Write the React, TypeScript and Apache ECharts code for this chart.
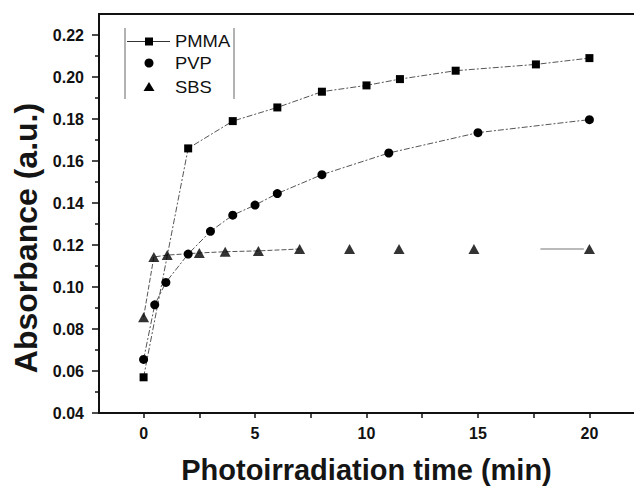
import React, { useEffect, useRef } from "react";
import * as echarts from "echarts";

// PMMA (squares)
const pmmaX = [0, 2, 4, 6, 8, 10, 11.5, 14, 17.6, 20];
const pmmaY = [0.057, 0.166, 0.179, 0.1855, 0.193, 0.196, 0.199, 0.203, 0.206, 0.209];
// PVP (circles)
const pvpX = [0, 0.5, 1, 2, 3, 4, 5, 6, 8, 11, 15, 20];
const pvpY = [0.0655, 0.0915, 0.1022, 0.1157, 0.1265, 0.1342, 0.139, 0.1445, 0.1535, 0.1638, 0.1735, 0.1797];
// SBS (triangles)
const sbsX = [0, 0.46, 1.06, 2.5, 3.66, 5.15, 7, 9.24, 11.46, 14.82, 20];
const sbsY = [0.0856, 0.1143, 0.1152, 0.1162, 0.1168, 0.1172, 0.1181, 0.1181, 0.1181, 0.1181, 0.1181];
const sbsConnectedCount = 7;
// short solid segment of SBS line near the end
const sbsTailX = [17.8, 19.75];
const sbsTailY = [0.1181, 0.1181];

// axis ticks
const xLabels = [0, 5, 10, 15, 20];
const xTicks = [0, 2.5, 5, 7.5, 10, 12.5, 15, 17.5, 20];
const yLabels = [0.04, 0.06, 0.08, 0.1, 0.12, 0.14, 0.16, 0.18, 0.2, 0.22];
const yMinor = [0.05, 0.07, 0.09, 0.11, 0.13, 0.15, 0.17, 0.19, 0.21];

const zip = (xs: number[], ys: number[]) => xs.map((x, i) => [x, ys[i]]);

const FONT = "'Liberation Sans', Arial, sans-serif";

export default function App() {
  const ref = useRef<HTMLDivElement>(null);
  useEffect(() => {
    document.body.style.margin = "0";
    const chart = echarts.init(ref.current!, null, { renderer: "svg" });
    const lineCol = "#555";
    chart.setOption({
      animation: false,
      backgroundColor: "#fff",
      grid: { left: 99, top: 14, width: 538, bottom: 75, containLabel: false },
      xAxis: [
        {
          type: "value",
          min: -2,
          max: 22,
          position: "bottom",
          name: "Photoirradiation time (min)",
          nameLocation: "middle",
          nameGap: 42,
          nameTextStyle: { fontFamily: FONT, fontWeight: "bold", fontSize: 29, color: "#151515" },
          axisLine: { show: true, onZero: false, lineStyle: { color: "#111", width: 2 } },
          axisTick: { show: true, customValues: xTicks, length: 5, lineStyle: { color: "#111", width: 1.5 } },
          axisLabel: {
            customValues: xLabels,
            fontFamily: FONT,
            fontWeight: "bold",
            fontSize: 16,
            color: "#111",
            margin: 12,
          },
          splitLine: { show: false },
        },
        {
          type: "value",
          min: -2,
          max: 22,
          position: "top",
          axisLine: { show: true, onZero: false, lineStyle: { color: "#111", width: 2 } },
          axisTick: { show: false },
          axisLabel: { show: false },
          splitLine: { show: false },
        },
      ],
      yAxis: [
        {
          type: "value",
          min: 0.04,
          max: 0.23,
          position: "left",
          axisLine: { show: true, onZero: false, lineStyle: { color: "#111", width: 2 } },
          axisTick: { show: true, customValues: yLabels, length: 7, lineStyle: { color: "#111", width: 1.5 } },
          axisLabel: {
            customValues: yLabels,
            formatter: (v: number) => v.toFixed(2),
            fontFamily: FONT,
            fontWeight: "bold",
            fontSize: 16,
            color: "#111",
            margin: 15,
          },
          splitLine: { show: false },
        },
        {
          type: "value",
          min: 0.04,
          max: 0.23,
          position: "left",
          axisLine: { show: false, onZero: false },
          axisTick: { show: true, customValues: yMinor, length: 4, lineStyle: { color: "#111", width: 1.5 } },
          axisLabel: { show: false },
          splitLine: { show: false },
        },
      ],
      graphic: [
        {
          type: "text",
          x: 26,
          y: 238,
          rotation: Math.PI / 2,
          style: {
            text: "Absorbance (a.u.)",
            font: `bold 32px ${FONT}`,
            fill: "#151515",
            align: "center",
            verticalAlign: "middle",
          },
        },
        { type: "line", shape: { x1: 125, y1: 28, x2: 125, y2: 99 }, style: { stroke: "#666", lineWidth: 1 } },
        { type: "line", shape: { x1: 234, y1: 28, x2: 234, y2: 99 }, style: { stroke: "#666", lineWidth: 1 } },
        { type: "line", shape: { x1: 127, y1: 41.5, x2: 170, y2: 41.5 }, style: { stroke: "#333", lineWidth: 1 } },
        { type: "rect", shape: { x: 145, y: 37.5, width: 8, height: 8 }, style: { fill: "#000" } },
        { type: "circle", shape: { cx: 149, cy: 63, r: 4.5 }, style: { fill: "#000" } },
        { type: "polygon", shape: { points: [[143.5, 91], [154.5, 91], [149, 82]] }, style: { fill: "#000" } },
        {
          type: "text",
          x: 175,
          y: 41.5,
          scaleX: 1.15,
          style: { text: "PMMA", font: `16px ${FONT}`, fill: "#111", verticalAlign: "middle", align: "left" },
        },
        {
          type: "text",
          x: 175,
          y: 63,
          scaleX: 1.15,
          style: { text: "PVP", font: `16px ${FONT}`, fill: "#111", verticalAlign: "middle", align: "left" },
        },
        {
          type: "text",
          x: 175,
          y: 87,
          scaleX: 1.15,
          style: { text: "SBS", font: `16px ${FONT}`, fill: "#111", verticalAlign: "middle", align: "left" },
        },
      ],
      series: [
        {
          name: "PMMA",
          type: "line",
          data: zip(pmmaX, pmmaY),
          symbol: "rect",
          symbolSize: 8,
          itemStyle: { color: "#000" },
          lineStyle: { color: lineCol, width: 1, type: [6, 2, 2, 2] },
          z: 3,
        },
        {
          name: "PVP",
          type: "line",
          data: zip(pvpX, pvpY),
          symbol: "circle",
          symbolSize: 9,
          itemStyle: { color: "#000" },
          lineStyle: { color: lineCol, width: 1, type: [6, 2, 2, 2] },
          z: 3,
        },
        {
          name: "SBS line",
          type: "line",
          data: zip(sbsX.slice(0, sbsConnectedCount), sbsY.slice(0, sbsConnectedCount)),
          symbol: "none",
          lineStyle: { color: lineCol, width: 1, type: [5, 2] },
          z: 2,
        },
        {
          name: "SBS tail",
          type: "line",
          data: zip(sbsTailX, sbsTailY),
          symbol: "none",
          lineStyle: { color: "#777", width: 1.2 },
          z: 2,
        },
        {
          name: "SBS",
          type: "scatter",
          data: zip(sbsX, sbsY),
          symbol: "triangle",
          symbolSize: [11, 10],
          itemStyle: { color: "#000" },
          z: 4,
        },
      ],
    });
    return () => chart.dispose();
  }, []);
  return <div ref={ref} style={{ width: 634, height: 489 }} />;
}
